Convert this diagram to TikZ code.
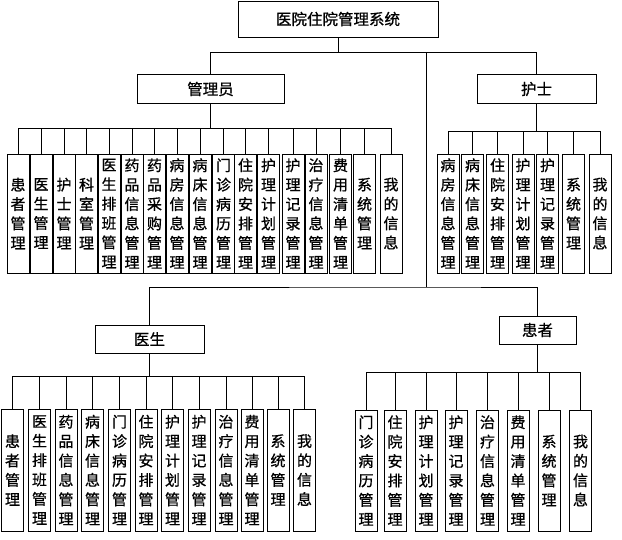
\documentclass[tikz,border=0pt]{standalone}
\usepackage{fontspec}
\newfontfamily\cjk[FakeBold=0.8]{Noto Sans CJK SC}
\tikzset{
  line/.style={draw=black,line width=0.8pt},
  headbox/.style={draw=black,line width=0.8pt,fill=white,inner sep=0pt,font=\cjk\fontsize{15.5}{18}\selectfont},
  leafbox/.style={draw=black,line width=0.8pt,fill=white,inner sep=0pt,minimum width=22pt,align=center,font=\cjk\fontsize{15}{19.4}\selectfont},
}
\begin{document}
\begin{tikzpicture}[x=1pt,y=-1pt]
\useasboundingbox (0,0) rectangle (622,539);
% header boxes
\node[headbox,minimum width=200pt,minimum height=36pt] (top) at (338,19) {医院住院管理系统};
\node[headbox,minimum width=147pt,minimum height=29pt] (admin) at (210.5,89) {管理员};
\node[headbox,minimum width=119pt,minimum height=29pt] (nurse) at (536.5,89) {护士};
\node[headbox,minimum width=109pt,minimum height=28pt] (doctor) at (149.5,339) {医生};
\node[headbox,minimum width=77pt,minimum height=28pt] (patient) at (537.5,330) {患者};
% top connectors
\coordinate (tj) at (338,52);
\coordinate (t1) at (426,52);
\coordinate (t2) at (426,287);
\draw[line] (top.south) -- (tj);
\draw[line] (admin.north) |- (tj);
\draw[line] (nurse.north) |- (tj);
\draw[line] (t1) -- (t2);
\draw[line] (doctor.north) |- (t2) -| (patient.north);
% admin children
\coordinate (ab) at (210.5,128);
\draw[line] (admin.south) -- (ab);
\foreach \x/\t [count=\i] in {
  18/{患\\者\\管\\理}, 41/{医\\生\\管\\理}, 64/{护\\士\\管\\理}, 86.5/{科\\室\\管\\理},
  109/{医\\生\\排\\班\\管\\理}, 132/{药\\品\\信\\息\\管\\理}, 154.5/{药\\品\\采\\购\\管\\理},
  177/{病\\房\\信\\息\\管\\理}, 200/{病\\床\\信\\息\\管\\理}, 223.5/{门\\诊\\病\\历\\管\\理},
  245.5/{住\\院\\安\\排\\管\\理}, 268.5/{护\\理\\计\\划\\管\\理}, 293/{护\\理\\记\\录\\管\\理},
  316/{治\\疗\\信\\息\\管\\理}, 340.5/{费\\用\\清\\单\\管\\理}, 364.5/{系\\统\\管\\理}, 391/{我\\的\\信\\息}} {
  \node[leafbox,minimum height=119pt] (a\i) at (\x,213.5) {\t};
  \draw[line] (a\i.north) |- (ab);
}
% nurse children
\coordinate (nb) at (536.5,131);
\draw[line] (nurse.south) -- (nb);
\foreach \x/\t [count=\i] in {
  448/{病\\房\\信\\息\\管\\理}, 472.5/{病\\床\\信\\息\\管\\理}, 497.5/{住\\院\\安\\排\\管\\理},
  523/{护\\理\\计\\划\\管\\理}, 547.5/{护\\理\\记\\录\\管\\理}, 573.5/{系\\统\\管\\理}, 600/{我\\的\\信\\息}} {
  \node[leafbox,minimum height=119pt] (n\i) at (\x,213.5) {\t};
  \draw[line] (n\i.north) |- (nb);
}
% doctor children
\coordinate (db) at (149.5,376);
\draw[line] (doctor.south) -- (db);
\foreach \x/\t [count=\i] in {
  12.5/{患\\者\\管\\理}, 39.5/{医\\生\\排\\班\\管\\理}, 66/{药\\品\\信\\息\\管\\理},
  92.5/{病\\床\\信\\息\\管\\理}, 119.5/{门\\诊\\病\\历\\管\\理}, 146/{住\\院\\安\\排\\管\\理},
  172.5/{护\\理\\计\\划\\管\\理}, 199/{护\\理\\记\\录\\管\\理}, 226/{治\\疗\\信\\息\\管\\理},
  252/{费\\用\\清\\单\\管\\理}, 278/{系\\统\\管\\理}, 304.5/{我\\的\\信\\息}} {
  \node[leafbox,minimum height=122pt] (d\i) at (\x,470) {\t};
  \draw[line] (d\i.north) |- (db);
}
% patient children
\coordinate (pb) at (537.5,372);
\draw[line] (patient.south) -- (pb);
\foreach \x/\t [count=\i] in {
  366/{门\\诊\\病\\历\\管\\理}, 395/{住\\院\\安\\排\\管\\理}, 426/{护\\理\\计\\划\\管\\理},
  456/{护\\理\\记\\录\\管\\理}, 487.5/{治\\疗\\信\\息\\管\\理}, 518/{费\\用\\清\\单\\管\\理},
  549/{系\\统\\管\\理}, 580.5/{我\\的\\信\\息}} {
  \node[leafbox,minimum height=121pt] (p\i) at (\x,470.5) {\t};
  \draw[line] (p\i.north) |- (pb);
}
\end{tikzpicture}
\end{document}
